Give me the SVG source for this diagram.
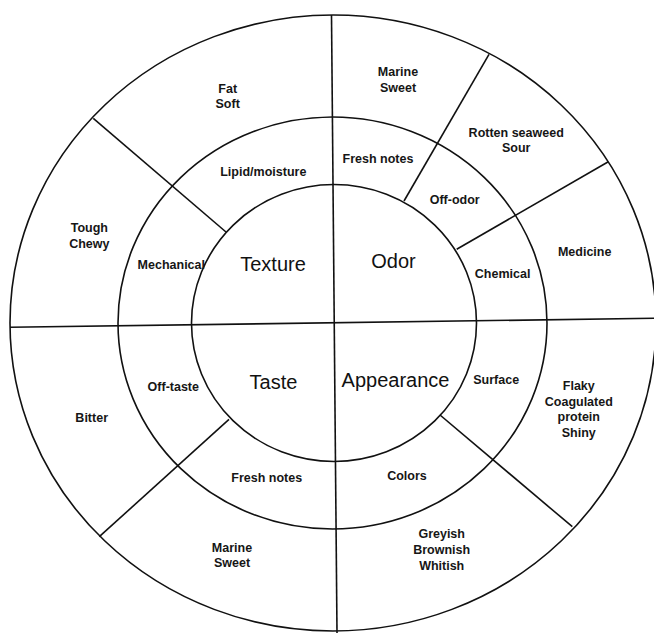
<svg xmlns="http://www.w3.org/2000/svg" width="654" height="633" viewBox="0 0 654 633">
<style>
.ring{fill:none;stroke:#111;stroke-width:1.6}
.ln{stroke:#111;stroke-width:1.6;fill:none}
.s{font-family:"Liberation Sans",Arial,sans-serif;font-size:12.5px;font-weight:bold;fill:#161616;text-anchor:middle}
.b{font-family:"Liberation Sans",Arial,sans-serif;font-size:20px;fill:#111;text-anchor:middle}
</style>
<rect width="654" height="633" fill="#fff"/>
<g id="rings">
<ellipse class="ring" cx="333" cy="323" rx="323" ry="308"/>
<ellipse class="ring" cx="332.5" cy="323" rx="214.5" ry="206"/>
<ellipse class="ring" cx="334" cy="323" rx="142.5" ry="138.5"/>
</g>
<g id="connectors">
<line class="ln" x1="10" y1="327.3" x2="654" y2="318.3"/>
<line class="ln" x1="331.5" y1="15" x2="337" y2="633"/>
<line class="ln" x1="93.3" y1="118.3" x2="226" y2="232"/>
<line class="ln" x1="489" y1="54.3" x2="404" y2="201"/>
<line class="ln" x1="608.3" y1="161.7" x2="456.7" y2="249.3"/>
<line class="ln" x1="99.3" y1="536.7" x2="229" y2="419.3"/>
<line class="ln" x1="572.3" y1="526.7" x2="440" y2="415"/>
</g>
<g id="texture"><text class="b" x="273" y="270.5">Texture</text></g>
<g id="odor"><text class="b" x="393.5" y="268.3">Odor</text></g>
<g id="taste"><text class="b" x="273.5" y="389">Taste</text></g>
<g id="appearance"><text class="b" x="395.5" y="386.7">Appearance</text></g>
<g id="lipid"><text class="s" x="263.3" y="175.7">Lipid/moisture</text></g>
<g id="mechanical"><text class="s" x="171.3" y="269.3">Mechanical</text></g>
<g id="fresh-odor"><text class="s" x="378" y="163.3">Fresh notes</text></g>
<g id="off-odor"><text class="s" x="454.7" y="204">Off-odor</text></g>
<g id="chemical"><text class="s" x="502.6" y="278.3">Chemical</text></g>
<g id="surface"><text class="s" x="496.2" y="384">Surface</text></g>
<g id="colors"><text class="s" x="407" y="480">Colors</text></g>
<g id="fresh-taste"><text class="s" x="266.7" y="481.7">Fresh notes</text></g>
<g id="off-taste"><text class="s" x="173.3" y="391">Off-taste</text></g>
<g id="fat-soft"><text class="s" x="227.7" y="92.7">Fat<tspan x="227.7" y="107.5">Soft</tspan></text></g>
<g id="tough-chewy"><text class="s" x="89.3" y="232.3">Tough<tspan x="89.3" y="247.7">Chewy</tspan></text></g>
<g id="marine-odor"><text class="s" x="398" y="76">Marine<tspan x="398" y="91.7">Sweet</tspan></text></g>
<g id="rotten"><text class="s" x="516.2" y="137.3">Rotten seaweed<tspan x="516.2" y="152.3">Sour</tspan></text></g>
<g id="medicine"><text class="s" x="584.7" y="255.7">Medicine</text></g>
<g id="flaky"><text class="s" x="578.8" y="390">Flaky<tspan x="578.8" y="405.8">Coagulated</tspan><tspan x="578.8" y="421.4">protein</tspan><tspan x="578.8" y="436.8">Shiny</tspan></text></g>
<g id="greyish"><text class="s" x="441.7" y="538.3">Greyish<tspan x="441.7" y="554.3">Brownish</tspan><tspan x="441.7" y="570">Whitish</tspan></text></g>
<g id="marine-taste"><text class="s" x="232" y="551.7">Marine<tspan x="232" y="567">Sweet</tspan></text></g>
<g id="bitter"><text class="s" x="91.7" y="422.3">Bitter</text></g>
</svg>
